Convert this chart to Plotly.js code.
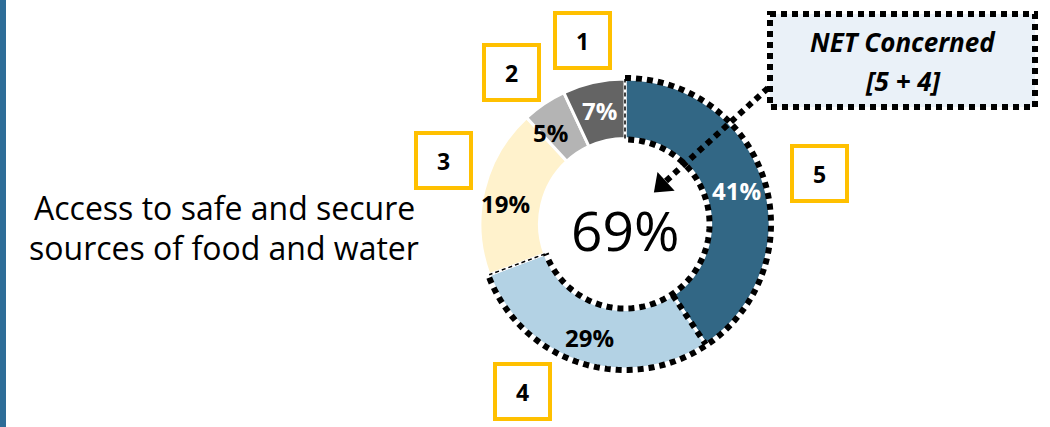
<!DOCTYPE html>
<html><head><meta charset="utf-8">
<script src="https://cdn.plot.ly/plotly-3.0.1.min.js"></script>
<style>html,body{margin:0;padding:0;background:#fff;}#chart{width:1050px;height:427px;}</style>
</head><body><div id="chart"></div>
<script>
// ---- data ----
const categories = ["5", "4", "3", "2", "1"];
const values = [41, 29, 19, 5, 7];
const sliceLabels = ["41%", "29%", "19%", "5%", "7%"];
const netValue = "69%";
const netParts = ["5", "4"];
const rowLabel = ["Access to safe and secure", "sources of food and water"];
const boxLabels = ["1", "2", "3", "4", "5"];

// ---- layout constants ----
const W = 1050, H = 427;
const CX = 625, CY = 224, R = 145, HOLE = 0.59;
const FONT = "'Open Sans', sans-serif";
const colors = ["#326785", "#B3D2E4", "#FFF2CC", "#B4B4B4", "#646464"];
const textColors = ["#ffffff", "#000000", "#000000", "#000000", "#ffffff"];

const total = values.reduce((a, b) => a + b, 0);
const cum = [0];
values.forEach(v => cum.push(cum[cum.length - 1] + v));
const ang = f => Math.PI / 2 - 2 * Math.PI * f;
const pt = (r, f) => [CX + r * Math.cos(ang(f)), CY - r * Math.sin(ang(f))];

function arcPath(r, f0, f1) {
  const n = 120;
  let d = "";
  for (let i = 0; i <= n; i++) {
    const p = pt(r, f0 + (f1 - f0) * i / n);
    d += (i === 0 ? "M" : "L") + p[0].toFixed(2) + "," + p[1].toFixed(2);
  }
  return d;
}
function radialPath(f, r0, r1) {
  const a = pt(r0, f), b = pt(r1, f);
  return "M" + a[0] + "," + a[1] + "L" + b[0] + "," + b[1];
}

const rIn = R * HOLE;
const fA = cum[0] / total, fB = cum[1] / total, fC = cum[2] / total;
const dotLine = {color: "#000", width: 6, dash: "6px,5px"};
const thinDash = {color: "#000", width: 1.5, dash: "4px,3px"};

const traces = [{
  type: "pie",
  values: values,
  labels: categories,
  textinfo: "none",
  sort: false,
  direction: "clockwise",
  rotation: 0,
  hole: HOLE,
  marker: {colors: colors, line: {color: "#ffffff", width: 3}},
  domain: {x: [(CX - R) / W, (CX + R) / W], y: [(H - CY - R) / H, (H - CY + R) / H]},
  showlegend: false,
  hoverinfo: "skip"
}];

const shapes = [
  {type: "rect", xref: "paper", yref: "paper", x0: 0, x1: 6 / W, y0: 0, y1: 1,
   fillcolor: "#2E6D98", line: {width: 0}, layer: "below"},
  {type: "rect", xref: "x", yref: "y", x0: 770, x1: 1035, y0: 14, y1: 107,
   fillcolor: "#EAF1F8", line: {color: "#000", width: 6, dash: "6px,5px"}, layer: "above"}
];
function addPath(d, line) {
  shapes.push({type: "path", xref: "x", yref: "y", path: d, line: line, layer: "above"});
}
// NET outline (slices 5 + 4)
addPath(arcPath(R + 1, fA, fC), dotLine);
addPath(arcPath(rIn - 1, fA + 0.006, fC), dotLine);
addPath(radialPath(fB, rIn, R), dotLine);
addPath(radialPath(fA, rIn, R), thinDash);
addPath(radialPath(fC, rIn, R), thinDash);

// arrow from NET box to centre
const arrowStart = [768, 88], arrowEnd = [666, 181];
addPath("M" + arrowStart[0] + "," + arrowStart[1] + "L" + arrowEnd[0] + "," + arrowEnd[1], dotLine);
const arrAngle = Math.atan2(arrowEnd[0] - arrowStart[0], -(arrowEnd[1] - arrowStart[1])) * 180 / Math.PI;
traces.push({type: "scatter", mode: "markers", x: [arrowEnd[0] - 4], y: [arrowEnd[1] + 4],
  marker: {symbol: "triangle-up", size: 22, color: "#000", angle: arrAngle},
  xaxis: "x", yaxis: "y", showlegend: false, hoverinfo: "skip"});

// number boxes
const boxes = [[555, 13], [484, 45], [416, 133], [495, 364], [792, 146]];
const BS = 55;
const annotations = [];
boxes.forEach((b, i) => {
  shapes.push({type: "rect", xref: "x", yref: "y", x0: b[0], x1: b[0] + BS, y0: b[1], y1: b[1] + BS,
    fillcolor: "#fff", line: {color: "#FFC000", width: 4}, layer: "above"});
  annotations.push({xref: "x", yref: "y", x: b[0] + BS / 2, y: b[1] + BS / 2, text: "<b>" + boxLabels[i] + "</b>",
    showarrow: false, font: {family: FONT, size: 23, color: "#000"}});
});

// slice labels at mid-ring along each slice bisector
const labelOffsets = [[0, 0], [0, 3], [-6, 6], [-10, 5], [0, 0]];
values.forEach((v, i) => {
  const f = (cum[i] + v / 2) / total;
  const p = pt((R + rIn) / 2 + 1, f);
  annotations.push({xref: "x", yref: "y", x: p[0] + labelOffsets[i][0], y: p[1] + labelOffsets[i][1],
    text: "<b>" + sliceLabels[i] + "</b>", showarrow: false,
    font: {family: FONT, size: 24, color: textColors[i]}});
});

annotations.push({xref: "x", yref: "y", x: CX, y: CY + 5, text: netValue, showarrow: false,
  font: {family: FONT, size: 55, color: "#000"}});
annotations.push({xref: "x", yref: "y", x: 224, y: 207, text: rowLabel[0], showarrow: false,
  font: {family: FONT, size: 32, color: "#000"}});
annotations.push({xref: "x", yref: "y", x: 224, y: 247, text: rowLabel[1], showarrow: false,
  font: {family: FONT, size: 32, color: "#000"}});
annotations.push({xref: "x", yref: "y", x: 903, y: 42, text: "<b><i>NET Concerned</i></b>", showarrow: false,
  font: {family: FONT, size: 26, color: "#000"}});
annotations.push({xref: "x", yref: "y", x: 903, y: 81, text: "<b><i>[" + netParts[0] + " + " + netParts[1] + "]</i></b>", showarrow: false,
  font: {family: FONT, size: 26, color: "#000"}});

const layout = {
  width: W, height: H,
  margin: {l: 0, r: 0, t: 0, b: 0},
  paper_bgcolor: "#fff", plot_bgcolor: "rgba(0,0,0,0)",
  xaxis: {range: [0, W], visible: false, fixedrange: true, domain: [0, 1]},
  yaxis: {range: [H, 0], visible: false, fixedrange: true, domain: [0, 1]},
  shapes: shapes,
  annotations: annotations,
  showlegend: false
};
Plotly.newPlot("chart", traces, layout, {displayModeBar: false, staticPlot: true});
</script></body></html>
